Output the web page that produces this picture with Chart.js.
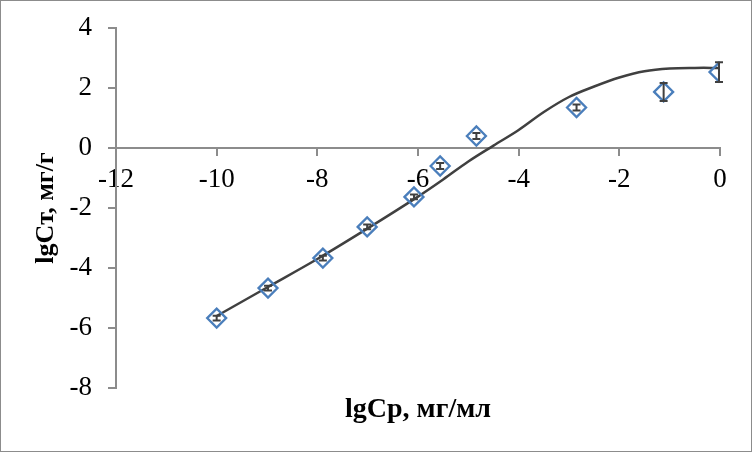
<!DOCTYPE html>
<html>
<head>
<meta charset="utf-8">
<script src="https://cdn.jsdelivr.net/npm/chart.js@4"></script>
<style>
  body { margin: 0; background: #fff; }
  #wrap { width: 750px; height: 450px; border: 1px solid #8c8c8c; }
</style>
</head>
<body>
<div id="wrap"><canvas id="chart" width="750" height="450"></canvas></div>
<script>
// measured points (lgCp, lgCт) with error bars
const pointX = [-10, -8.98, -7.89, -7.01, -6.08, -5.56, -4.84, -2.85, -1.12, -0.02];
const pointY = [-5.67, -4.67, -3.67, -2.63, -1.63, -0.6, 0.4, 1.35, 1.87, 2.53];
const pointErr = [0.08, 0.08, 0.08, 0.08, 0.08, 0.1, 0.1, 0.1, 0.3, 0.33];

// model curve
const curveX = [-10, -9, -8, -7, -6, -5.5, -5, -4.5, -4, -3.5, -3, -2.5, -2, -1.5, -1, -0.5, 0];
const curveY = [-5.6, -4.65, -3.7, -2.68, -1.62, -1.05, -0.45, 0.08, 0.6, 1.2, 1.7, 2.05, 2.35, 2.56, 2.65, 2.67, 2.67];

const xTitle = 'lgCр, мг/мл';
const yTitle = 'lgCт, мг/г';

const axisColor = '#8c8c8c';
const serif = '"Liberation Serif", "Times New Roman", serif';

// error bars drawn through the scales
const errorBars = {
  id: 'errorBars',
  afterDatasetsDraw(chart) {
    const { ctx, scales: { x, y } } = chart;
    ctx.save();
    ctx.strokeStyle = '#404040';
    ctx.lineWidth = 2;
    pointX.forEach((v, i) => {
      const px = x.getPixelForValue(v);
      const top = y.getPixelForValue(pointY[i] + pointErr[i]);
      const bot = y.getPixelForValue(pointY[i] - pointErr[i]);
      ctx.beginPath();
      ctx.moveTo(px, top); ctx.lineTo(px, bot);
      ctx.moveTo(px - 4, top); ctx.lineTo(px + 4, top);
      ctx.moveTo(px - 4, bot); ctx.lineTo(px + 4, bot);
      ctx.stroke();
    });
    ctx.restore();
  }
};

// x axis title sits at the bottom, below the plot
const bottomTitle = {
  id: 'bottomTitle',
  afterDraw(chart) {
    const { ctx, chartArea } = chart;
    ctx.save();
    ctx.font = 'bold 28px ' + serif;
    ctx.fillStyle = '#000';
    ctx.textAlign = 'center';
    ctx.textBaseline = 'middle';
    ctx.fillText(xTitle, (chartArea.left + chartArea.right) / 2, 409);
    ctx.restore();
  }
};

new Chart(document.getElementById('chart'), {
  type: 'scatter',
  data: {
    datasets: [{
      label: 'curve',
      data: curveX.map((v, i) => ({ x: v, y: curveY[i] })),
      showLine: true,
      borderColor: '#404040',
      borderWidth: 2.5,
      pointRadius: 0,
      tension: 0.35,
      order: 2
    }, {
      label: 'points',
      data: pointX.map((v, i) => ({ x: v, y: pointY[i] })),
      pointStyle: 'rectRot',
      pointRadius: 9.5,
      borderWidth: 2.3,
      borderColor: '#4a7ebb',
      backgroundColor: 'rgba(0,0,0,0)',
      order: 1
    }]
  },
  options: {
    responsive: false,
    animation: false,
    layout: { padding: { left: 0, right: 31, top: 27, bottom: 63 } },
    plugins: { legend: { display: false }, tooltip: { enabled: false } },
    scales: {
      x: {
        type: 'linear',
        position: { y: 0 },
        min: -12, max: 0,
        ticks: { stepSize: 2, autoSkip: false, maxRotation: 0, color: '#000', padding: 9, font: { family: serif, size: 27 } },
        grid: { drawOnChartArea: false, tickLength: 7, color: axisColor, lineWidth: 2 },
        border: { color: axisColor, width: 2 },
        afterFit: (s) => { s.paddingLeft = 0; s.paddingRight = 0; }
      },
      y: {
        min: -8, max: 4,
        ticks: { stepSize: 2, color: '#000', padding: 16, font: { family: serif, size: 27 } },
        grid: { drawOnChartArea: false, tickLength: 8, color: axisColor, lineWidth: 2 },
        border: { color: axisColor, width: 2 },
        title: { display: true, text: yTitle, color: '#000', padding: { top: 30, bottom: 0 }, font: { family: serif, size: 26, weight: 'bold' } },
        afterFit: (s) => { s.width = 115; s.paddingTop = 0; s.paddingBottom = 0; }
      }
    }
  },
  plugins: [errorBars, bottomTitle]
});
</script>
</body>
</html>
